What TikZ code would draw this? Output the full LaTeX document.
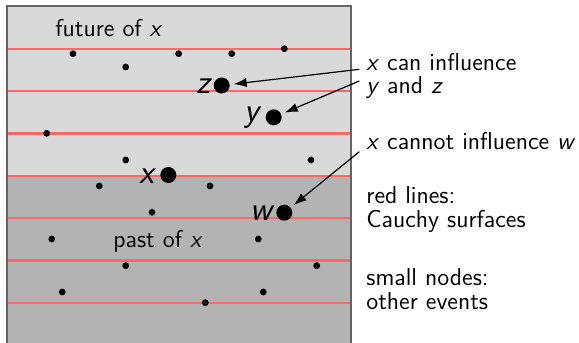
\documentclass[tikz,border=0pt]{standalone}
\usetikzlibrary{arrows.meta}
\definecolor{futuregray}{RGB}{217,217,217}
\definecolor{pastgray}{RGB}{179,179,179}
\definecolor{framegray}{RGB}{100,100,100}
\definecolor{cauchyred}{RGB}{255,102,102}
\begin{document}
\begin{tikzpicture}[x=0.5pt,y=-0.5pt,
  font=\fontsize{12.2}{11.6}\selectfont\sffamily,
  smalldot/.style={circle,fill=black,inner sep=0pt,minimum size=3.4pt},
  bigdot/.style={circle,fill=black,inner sep=0pt,minimum size=8pt},
  evlabel/.style={font=\fontsize{17}{17}\selectfont\sffamily\itshape,inner sep=0pt,anchor=base east},
  txt/.style={anchor=base west,inner sep=0pt,align=left},
  cauchy/.style={draw=cauchyred,line width=1.2pt},
  arr/.style={-{Latex[length=6.5pt,width=4.5pt]},line width=0.6pt,shorten >=1.8pt}]
\useasboundingbox (0,0) rectangle (579,343);
% regions
\fill[futuregray] (7,6) rectangle (351,175.7);
\fill[pastgray] (7,175.7) rectangle (351,350);
% Cauchy surfaces
\foreach \yy in {48.7,91,133.3,175.7,218,260.3,302.7}
  \draw[cauchy] (7,\yy) -- (351,\yy);
\draw[framegray,line width=0.65pt] (7,6) rectangle (351,350);
% small events
\node[smalldot] (e1) at (73,53.7) {};
\node[smalldot] (e2) at (125.7,67) {};
\node[smalldot] (e3) at (178.7,53.7) {};
\node[smalldot] (e4) at (231.7,53.7) {};
\node[smalldot] (e5) at (284.3,48.7) {};
\node[smalldot] (e6) at (46.7,133.3) {};
\node[smalldot] (e7) at (125.7,160) {};
\node[smalldot] (e8) at (311,160) {};
\node[smalldot] (e9) at (99.3,186) {};
\node[smalldot] (e10) at (210,186) {};
\node[smalldot] (e11) at (152,212.3) {};
\node[smalldot] (e12) at (51.7,239) {};
\node[smalldot] (e13) at (258.3,239) {};
\node[smalldot] (e14) at (125.7,265.7) {};
\node[smalldot] (e15) at (316.7,265.7) {};
\node[smalldot] (e16) at (62.3,292) {};
\node[smalldot] (e17) at (263.3,292) {};
\node[smalldot] (e18) at (205.3,302.7) {};
% main events
\node[bigdot] (z) at (221.7,85.5) {};
\node[bigdot] (y) at (273.7,117.3) {};
\node[bigdot] (x) at (168.3,175) {};
\node[bigdot] (w) at (284.3,212.7) {};
\node[evlabel] (zl) at (210.5,93.3) {z};
\node[evlabel] (yl) at (260,121) {y};
\node[evlabel] (xl) at (155,183) {x};
\node[evlabel] (wl) at (272.5,220) {w};
% region texts
\node[txt] (fut) at (55,36) {future of \textit{x}};
\node[txt] (past) at (113,247.3) {past of \textit{x}};
% explanations (base = last line)
\node[txt] (can) at (366,93.3) {\textit{x} can influence\\\textit{y} and \textit{z}};
\node[txt] (cannot) at (366,149) {\textit{x} cannot influence \textit{w}};
\node[txt] (red) at (366,227) {red lines:\\Cauchy surfaces};
\node[txt] (small) at (366,309) {small nodes:\\other events};
% arrows
\coordinate (a1) at (359.3,69.3);
\coordinate (a2) at (359.3,81);
\coordinate (a3) at (359.3,151.7);
\draw[arr] (a1) -- (z);
\draw[arr] (a2) -- (y);
\draw[arr] (a3) -- (w);
\end{tikzpicture}
\end{document}
